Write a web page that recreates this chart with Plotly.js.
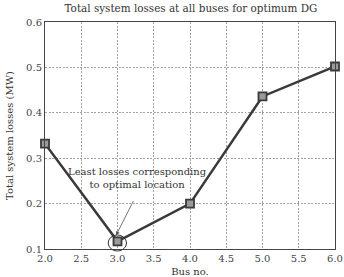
<!DOCTYPE html>
<html><head><meta charset="utf-8">
<script src="https://cdn.plot.ly/plotly-3.0.1.min.js"></script>
<style>html,body{margin:0;padding:0;background:#fff}#c{width:344px;height:277px}</style>
</head><body><div id="c"></div>
<script>
const busNo = [2, 3, 4, 5, 6];
const losses = [0.332, 0.117, 0.2, 0.436, 0.502];
const xTicks = [2.0, 2.5, 3.0, 3.5, 4.0, 4.5, 5.0, 5.5, 6.0];
const yTicks = [0.1, 0.2, 0.3, 0.4, 0.5, 0.6];
const serif = "DejaVu Serif, Liberation Serif, serif";

const trace = {
  x: busNo, y: losses, type: 'scatter', mode: 'lines+markers',
  line: {color: '#3a3a3a', width: 2.5},
  marker: {symbol: 'square', size: 8, color: '#9a9a9a', line: {color: '#3a3a3a', width: 1.8}},
  cliponaxis: false, showlegend: false
};

const layout = {
  width: 344, height: 277,
  margin: {l: 45, r: 9, t: 22, b: 28},
  paper_bgcolor: '#fff', plot_bgcolor: '#fff',
  font: {family: serif, size: 10, color: '#333'},
  title: {text: 'Total system losses at all buses for optimum DG', font: {family: serif, size: 10.4, color: '#333'}, x: 0.555, xanchor: 'center', y: 0.97, yanchor: 'middle'},
  xaxis: {
    range: [2, 6], tickvals: xTicks, ticktext: xTicks.map(v => v.toFixed(1)),
    showgrid: true, gridcolor: '#8a8a8a', griddash: '2px,1.5px', gridwidth: 0.8,
    showline: true, linecolor: '#444', linewidth: 1, mirror: true, zeroline: false,
    ticks: '', ticklabeloverflow: 'allow', tickfont: {family: serif, size: 10, color: '#444'},
    title: {text: 'Bus no.', font: {family: serif, size: 10, color: '#333'}, standoff: 24}
  },
  yaxis: {
    range: [0.1, 0.6], tickvals: yTicks, ticktext: yTicks.map(v => v.toFixed(1)),
    showgrid: true, gridcolor: '#8a8a8a', griddash: '2px,1.5px', gridwidth: 0.8,
    showline: true, linecolor: '#444', linewidth: 1, mirror: true, zeroline: false,
    ticks: '', ticklabeloverflow: 'allow', tickfont: {family: serif, size: 10, color: '#444'},
    title: {text: 'Total system losses (MW)', font: {family: serif, size: 10, color: '#333'}, standoff: 10}
  },
  annotations: [
    {x: 3.28, y: 0.257, xref: 'x', yref: 'y', showarrow: false,
     text: 'Least losses corresponding<br>to optimal location', align: 'center',
     font: {family: serif, size: 10, color: '#333'}},
    {x: 2.98, y: 0.13, xref: 'x', yref: 'y', ax: 3.23, ay: 0.209, axref: 'x', ayref: 'y',
     text: '', showarrow: true, arrowhead: 2, arrowsize: 1, arrowwidth: 0.8, arrowcolor: '#555'}
  ],
  shapes: [
    {type: 'circle', xref: 'paper', yref: 'paper', x0: 0.218, x1: 0.281, y0: -0.009, y1: 0.062,
     line: {color: '#333', width: 1}}
  ]
};

Plotly.newPlot('c', [trace], layout, {displayModeBar: false, staticPlot: true});
</script></body></html>
